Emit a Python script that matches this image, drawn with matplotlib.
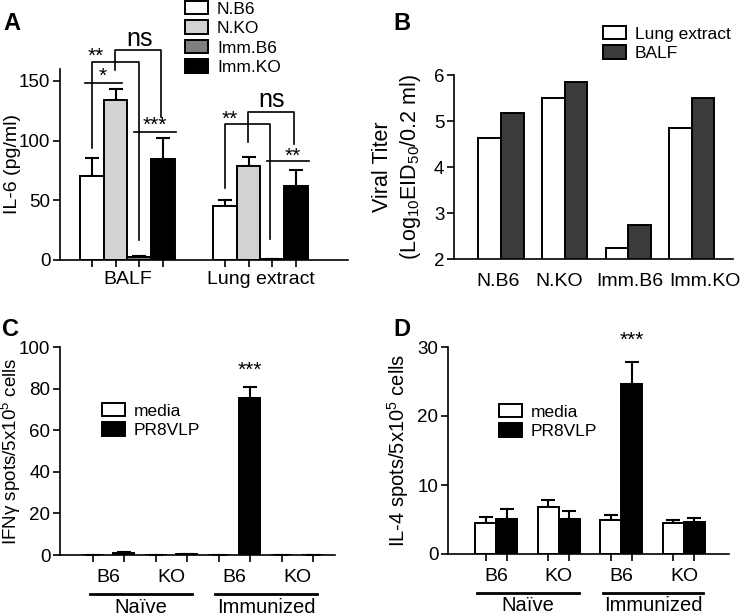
import numpy as np
import matplotlib
matplotlib.use("Agg")
import matplotlib.pyplot as plt
from matplotlib.transforms import blended_transform_factory, ScaledTranslation

plt.rcParams['font.family'] = ['Liberation Sans', 'DejaVu Sans']
plt.rcParams['mathtext.default'] = 'regular'
plt.rcParams['axes.linewidth'] = 1.2

# ---- data ----
# panel A: IL-6
a_groups = ["BALF", "Lung extract"]
a_series = ["N.B6", "N.KO", "Imm.B6", "Imm.KO"]
a_colors = ["white", "#d2d2d2", "#7f7f7f", "black"]
il6_balf = [70.5, 134, 2.5, 84.5]
il6_balf_err = [15, 9, 1, 18]
il6_lung = [45.5, 78.5, 1, 62]
il6_lung_err = [5, 8, 0, 13]

# panel B: viral titer
b_groups = ["N.B6", "N.KO", "Imm.B6", "Imm.KO"]
b_series = ["Lung extract", "BALF"]
titer_lung = [4.64, 5.51, 2.25, 4.84]
titer_balf = [5.17, 5.85, 2.74, 5.51]

# panels C, D: ELISPOT
cd_groups = ["B6", "KO", "B6", "KO"]
cd_series = ["media", "PR8VLP"]
ifng_media = [0, 0, 0, 0]
ifng_media_err = [0, 0, 0, 0]
ifng_vlp = [1.2, 0.4, 75.5, 0]
ifng_vlp_err = [0.4, 0.2, 5.5, 0]
il4_media = [4.5, 6.75, 5.0, 4.5]
il4_media_err = [0.9, 1.05, 0.7, 0.5]
il4_vlp = [5.1, 5.1, 24.6, 4.6]
il4_vlp_err = [1.4, 1.2, 3.2, 0.55]

W, H = 742, 616
TICK = 13.5
LAB = 14
fig = plt.figure(figsize=(W / 100, H / 100), dpi=100)


def px_axes(l, r, b, t):
    return fig.add_axes([l / W, 1 - b / H, (r - l) / W, (b - t) / H])


def style(ax):
    for s in ['top', 'right']:
        ax.spines[s].set_visible(False)
    ax.tick_params(axis='y', length=5, width=1.2, labelsize=TICK, pad=2)


def ylab(ax, text, size, right_px, left_px, width_px, **kw):
    # right_px: where the right edge of the rotated label sits
    ax.set_ylabel(text, fontsize=size, **kw)
    ax.yaxis.set_label_coords((right_px - left_px) / width_px, 0.5)


def up_err(ax, x, y, e):
    ax.errorbar(x, y, yerr=[np.zeros(len(e)), e], fmt='none', ecolor='black',
                elinewidth=1.5, capsize=5, capthick=1.5, zorder=1)


def legend(ax, handles, labels, x, y):
    ax.legend(handles, labels, loc='upper left', bbox_to_anchor=(x / W, 1 - y / H),
              bbox_transform=fig.transFigure, frameon=False, fontsize=12.5,
              handlelength=1.3, handleheight=0.8, handletextpad=0.55,
              labelspacing=0.22, borderpad=0, borderaxespad=0)


# ---- A ----
axA = px_axes(60, 348, 260, 69)
style(axA)
pos_balf = np.arange(4) * 1.0
pos_lung = pos_balf + 5.62
handles = []
for i in range(4):
    b = axA.bar([pos_balf[i], pos_lung[i]], [il6_balf[i], il6_lung[i]], width=1.0,
                color=a_colors[i], edgecolor='black', linewidth=1.4, zorder=2)
    handles.append(b)
up_err(axA, pos_balf, il6_balf, il6_balf_err)
up_err(axA, pos_lung, il6_lung, il6_lung_err)
axA.set_xlim(-1.35, 10.82)
axA.set_ylim(0, 160)
axA.set_yticks([0, 50, 100, 150])
axA.set_xticks([pos_balf.mean(), pos_lung.mean()])
axA.set_xticklabels(a_groups, fontsize=LAB)
axA.set_xticks(np.concatenate([pos_balf, pos_lung]), minor=True)
axA.tick_params(axis='x', which='major', length=0, pad=8)
axA.tick_params(axis='x', which='minor', length=5, width=1.2)
ylab(axA, "IL-6 (pg/ml)", 14, 21.5, 60, 288)
legend(axA, handles, a_series, 185, 1)


def seg(ax, xs, ys):
    ax.plot(xs, ys, color='black', lw=1.2, clip_on=False, zorder=3)


def star(ax, x, y, s, size=15):
    ax.text(x, y, s, ha='center', va='center', fontsize=size, clip_on=False)


# BALF brackets
p = pos_balf
seg(axA, [p[0] - 0.3, p[1] + 0.27], [148.6, 148.6])
star(axA, p[0] + 0.45, 154, "*")
seg(axA, [p[0], p[0], p[2], p[2]], [94, 166, 166, 17])
star(axA, p[0] + 0.15, 171, "**")
seg(axA, [p[1] - 0.03, p[1] - 0.03, p[2] + 0.92, p[2] + 0.92], [159, 175.5, 175.5, 120])
star(axA, p[2] + 0.0, 185, "ns", 18)
seg(axA, [p[1] + 0.77, p[3] + 0.55], [107.6, 107.6])
star(axA, p[2] + 0.66, 113, "***")
# Lung extract brackets
p = pos_lung
seg(axA, [p[0], p[0], p[2] - 0.1, p[2] - 0.1], [60, 113.7, 113.7, 17.5])
star(axA, p[0] + 0.2, 118, "**")
seg(axA, [p[1] - 0.03, p[1] - 0.03, p[3] - 0.09, p[3] - 0.09], [99, 123.8, 123.8, 97])
star(axA, p[2] - 0.02, 134, "ns", 18)
seg(axA, [p[1] + 0.77, p[3] + 0.55], [83, 83])
star(axA, p[3] - 0.13, 87, "**")

# ---- B ----
axB = px_axes(454, 733, 259, 75)
style(axB)
gx = np.arange(4) * 1.0
bw = 0.355
h1 = axB.bar(gx - bw / 2, titer_lung, width=bw, bottom=0, color='white',
             edgecolor='black', linewidth=1.4)
h2 = axB.bar(gx + bw / 2, titer_balf, width=bw, bottom=0, color='#3b3b3b',
             edgecolor='black', linewidth=1.4)
axB.set_xlim(-0.74, 3.65)
axB.set_ylim(2, 6)
axB.set_yticks([2, 3, 4, 5, 6])
axB.set_xticks(gx)
axB.set_xticklabels(b_groups, fontsize=LAB)
axB.tick_params(axis='x', length=0, pad=10)
# labels in the original are nudged off the bar centres
for t, dx in zip(axB.get_xticklabels(), [-2.5, -5, 1.5, 13]):
    t.set_transform(t.get_transform() + ScaledTranslation(dx / 100, 0, fig.dpi_scale_trans))
ylab(axB, "Viral Titer\n(Log$_{10}$EID$_{50}$/0.2 ml)", 15.5, 423, 454, 279, linespacing=1.25)
legend(axB, [h1, h2], b_series, 603, 26)


# ---- C / D ----
def elispot(ax, media, media_err, vlp, vlp_err, off, bw, ymax, yticks, star_y,
            leg_x, leg_y, xlim):
    style(ax)
    g = np.arange(4) * 1.0
    h1 = ax.bar(g - off, media, width=bw, color='white', edgecolor='black', linewidth=1.4, zorder=2)
    h2 = ax.bar(g + off, vlp, width=bw, color='black', edgecolor='black', linewidth=1.4, zorder=2)
    up_err(ax, g - off, media, media_err)
    up_err(ax, g + off, vlp, vlp_err)
    ax.set_xlim(*xlim)
    ax.set_ylim(0, ymax)
    ax.set_yticks(yticks)
    ax.set_xticks(g)
    ax.set_xticklabels(cd_groups, fontsize=LAB)
    ax.set_xticks(np.concatenate([g - off, g + off]), minor=True)
    ax.tick_params(axis='x', which='major', length=0, pad=10)
    ax.tick_params(axis='x', which='minor', length=5, width=1.2)
    ax.text(2 + off, star_y, "***", ha='center', va='center', fontsize=15, clip_on=False)
    tr = blended_transform_factory(ax.transData, ax.transAxes)
    for a, b, lab in [(-0.3, 1.32, "Naïve"), (1.7, 3.31, "Immunized")]:
        ax.plot([a, b], [-0.187, -0.187], color='black', lw=2, transform=tr, clip_on=False)
        ax.text((a + b) / 2, -0.277, lab, transform=tr, ha='center', va='baseline',
                fontsize=14.5)
    legend(ax, [h1, h2], cd_series, leg_x, leg_y)


axC = px_axes(60, 335, 555, 347)
elispot(axC, ifng_media, ifng_media_err, ifng_vlp, ifng_vlp_err, 0.245, 0.335, 100,
        [0, 20, 40, 60, 80, 100], 89, 102, 403, (-0.77, 3.6))
ylab(axC, "IFNγ spots/5x10$^5$ cells", 13.5, 23, 60, 275)
axD = px_axes(448, 729, 554, 347)
elispot(axD, il4_media, il4_media_err, il4_vlp, il4_vlp_err, 0.168, 0.336, 30,
        [0, 10, 20, 30], 31, 499, 404, (-0.77, 3.72))
ylab(axD, "IL-4 spots/5x10$^5$ cells", 14.5, 411, 448, 281)

# panel letters
for lab, x, y in [("A", 3, 24), ("B", 393, 24), ("C", 2, 330), ("D", 393, 330)]:
    fig.text(x / W, 1 - y / H, lab, fontsize=17, fontweight='bold', va='center', ha='left')

fig.savefig("out.png", dpi=100)
